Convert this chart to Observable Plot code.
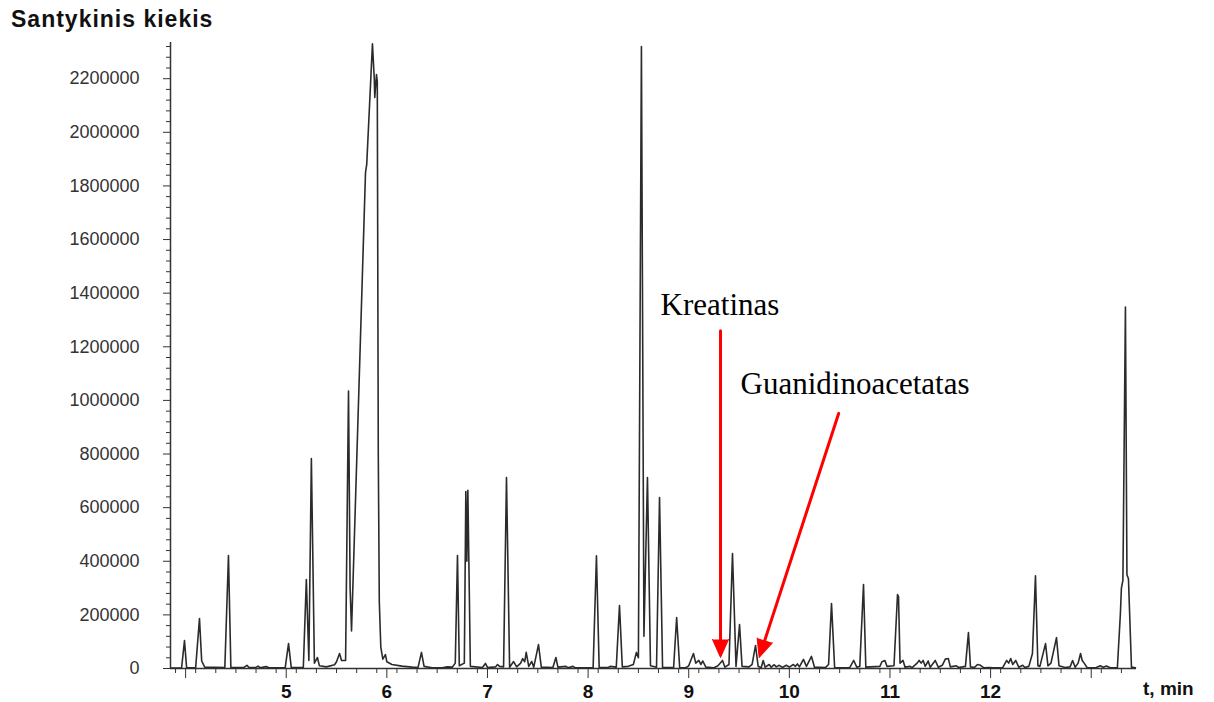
<!DOCTYPE html>
<html>
<head>
<meta charset="utf-8">
<script src="https://cdn.jsdelivr.net/npm/d3@7"></script>
<script src="https://cdn.jsdelivr.net/npm/@observablehq/plot@0.6"></script>
<style>
  html, body { margin: 0; padding: 0; background: #fff; }
  #wrap { position: relative; width: 1214px; height: 702px; font-family: Arial, "Liberation Sans", sans-serif; }
  #title { position: absolute; left: 11px; top: 8px; font-size: 23px; line-height: 23px; letter-spacing: 1px; font-weight: bold; color: #111; white-space: nowrap; }
  #xlab { position: absolute; left: 1143px; top: 679px; font-size: 19px; line-height: 19px; font-weight: bold; color: #111; white-space: nowrap; }
  #chart { position: absolute; left: 0; top: 0; }
</style>
</head>
<body>
<div id="wrap">
  <div id="chart"></div>
  <div id="title">Santykinis kiekis</div>
  <div id="xlab">t, min</div>
</div>
<script>
// Chromatogram trace: retention time (min) and relative amount
const times = [
  3.86, 3.96, 3.989, 4.01, 4.10, 4.138, 4.16, 4.19, 4.39, 4.426, 4.45,
  4.58, 4.61, 4.63, 4.70, 4.72, 4.74, 4.80, 4.83, 4.99, 5.023, 5.05,
  5.17, 5.20, 5.225, 5.25, 5.28, 5.31, 5.33, 5.40, 5.48, 5.50, 5.53, 5.55,
  5.59, 5.619, 5.635, 5.649, 5.788, 5.80, 5.857, 5.875, 5.88, 5.897, 5.905,
  5.915, 5.925, 5.94, 5.96, 5.986, 6.00, 6.05, 6.15, 6.25, 6.31, 6.344, 6.37,
  6.45, 6.55, 6.60, 6.65, 6.68, 6.702, 6.72, 6.77, 6.785, 6.795, 6.805, 6.83,
  6.95, 6.98, 7.00, 7.08, 7.10, 7.12, 7.16, 7.189, 7.22, 7.26, 7.29, 7.33,
  7.35, 7.37, 7.385, 7.41, 7.44, 7.46, 7.507, 7.535, 7.65, 7.68, 7.70, 7.78,
  7.80, 7.85, 7.87, 8.05, 8.083, 8.11, 8.20, 8.22, 8.28, 8.312, 8.34, 8.40,
  8.45, 8.48, 8.50, 8.53, 8.555, 8.59, 8.62, 8.68, 8.71, 8.74, 8.85, 8.88,
  8.91, 8.97, 9.00, 9.047, 9.07, 9.10, 9.12, 9.14, 9.17, 9.25, 9.29, 9.336,
  9.36, 9.40, 9.435, 9.47, 9.505, 9.53, 9.60, 9.63, 9.664, 9.69, 9.72, 9.74,
  9.76, 9.80, 9.82, 9.85, 9.87, 9.90, 9.93, 9.97, 10.00, 10.04, 10.06, 10.08,
  10.10, 10.14, 10.17, 10.22, 10.25, 10.36, 10.39, 10.419, 10.45, 10.60,
  10.64, 10.67, 10.70, 10.737, 10.76, 10.90, 10.92, 10.95, 10.97, 11.04,
  11.075, 11.085, 11.10, 11.13, 11.15, 11.20, 11.22, 11.27, 11.29, 11.31,
  11.33, 11.35, 11.38, 11.40, 11.45, 11.48, 11.52, 11.55, 11.58, 11.60, 11.66,
  11.68, 11.72, 11.75, 11.78, 11.80, 11.84, 11.87, 11.90, 11.93, 11.99, 12.02,
  12.12, 12.16, 12.18, 12.20, 12.22, 12.25, 12.28, 12.32, 12.34, 12.38, 12.416,
  12.446, 12.47, 12.49, 12.546, 12.57, 12.60, 12.655, 12.68, 12.74, 12.79,
  12.815, 12.84, 12.87, 12.894, 12.91, 12.93, 12.96, 13.05, 13.09, 13.12, 13.15,
  13.19, 13.26, 13.29, 13.30, 13.315, 13.34, 13.355, 13.37, 13.40, 13.44
];
const amounts = [
  2000, 2000, 104000, 3000, 3000, 186000, 28000, 5000, 4000, 421000, 4000,
  4000, 12000, 4000, 4000, 9000, 3000, 7000, 3000, 3000, 93000, 4000,
  4000, 332000, 30000, 783000, 20000, 41000, 10000, 6000, 14000, 25000, 56000, 30000,
  30000, 1035000, 300000, 140000, 1850000, 1880000, 2330000, 2200000, 2130000, 2215000, 2190000,
  800000, 250000, 80000, 35000, 52000, 25000, 15000, 9000, 5000, 4000, 60000, 8000,
  3000, 3000, 6000, 5000, 20000, 421000, 10000, 20000, 660000, 400000, 665000, 8000,
  4000, 19000, 4000, 6000, 15000, 8000, 6000, 712000, 5000, 26000, 6000, 20000,
  37000, 25000, 60000, 8000, 26000, 5000, 89000, 5000, 4000, 41000, 5000, 8000,
  3000, 8000, 3000, 3000, 420000, 4000, 4000, 8000, 5000, 235000, 6000, 8000,
  15000, 60000, 40000, 2320000, 120000, 712000, 10000, 5000, 638000, 4000, 4000, 190000,
  4000, 3000, 10000, 56000, 20000, 30000, 15000, 28000, 5000, 3000, 10000, 30000,
  5000, 15000, 429000, 8000, 164000, 8000, 6000, 15000, 86000, 8000, 3000, 30000,
  5000, 15000, 5000, 14000, 6000, 12000, 4000, 12000, 5000, 15000, 8000, 17000,
  6000, 34000, 8000, 45000, 5000, 4000, 15000, 242000, 4000, 3000,
  30000, 5000, 8000, 313000, 5000, 8000, 25000, 30000, 8000, 10000,
  276000, 268000, 20000, 30000, 5000, 8000, 3000, 20000, 30000, 20000,
  30000, 8000, 28000, 5000, 30000, 5000, 12000, 35000, 37000, 6000, 10000,
  4000, 6000, 8000, 134000, 6000, 4000, 15000, 12000, 3000, 4000, 3000,
  3000, 30000, 20000, 37000, 15000, 30000, 5000, 12000, 4000, 8000, 56000,
  346000, 10000, 8000, 93000, 10000, 20000, 115000, 10000, 4000, 6000,
  30000, 5000, 20000, 56000, 30000, 20000, 3000, 4000, 10000, 5000, 9000,
  3000, 4000, 205000, 300000, 330000, 1348000, 350000, 335000, 5000, 3000
];

// Axis ticks and labels
const xMajorTicks = [4, 5, 6, 7, 8, 9, 10, 11, 12, 13];
const xLabelled = [5, 6, 7, 8, 9, 10, 11, 12];
const yMajorTicks = [0, 200000, 400000, 600000, 800000, 1000000, 1200000, 1400000, 1600000, 1800000, 2000000, 2200000];

// Annotations
const annotationLabels = ["Kreatinas", "Guanidinoacetatas"];
const annotationTextT = [8.72, 9.515];
const annotationTextV = [1354000, 1061000];
const arrowFromT = [9.316, 10.49];
const arrowFromV = [1260000, 951000];
const arrowToT = [9.316, 9.70];
const arrowToV = [41000, 41000];
const arrowAngle = [180, 198];

const trace = times.map((t, i) => ({t, v: amounts[i]}));
const notes = annotationLabels.map((label, i) => ({
  label, tx: annotationTextT[i], tv: annotationTextV[i],
  x1: arrowFromT[i], y1: arrowFromV[i], x2: arrowToT[i], y2: arrowToV[i], rot: arrowAngle[i]
}));

const xMinor = d3.range(3.9, 13.45, 0.2).filter(d => Math.abs(d - Math.round(d)) > 0.05);
const yMinor = d3.range(0, 2340001, 40000).filter(d => d % 200000 !== 0);

const xDomain = [3.85, 13.45];
const yDomain = [0, 2335000];
const axisColor = "#333";
const fontFam = "Arial, 'Liberation Sans', sans-serif";

const chart = Plot.plot({
  width: 1214,
  height: 702,
  marginLeft: 170,
  marginRight: 78,
  marginTop: 42,
  marginBottom: 34,
  x: {domain: xDomain, label: null},
  y: {domain: yDomain, label: null},
  style: {fontFamily: fontFam, background: "transparent", overflow: "visible"},
  marks: [
    Plot.axisY({ticks: yMinor, tickSize: 4, tickFormat: () => "", stroke: axisColor, label: null}),
    Plot.axisY({ticks: yMajorTicks, tickSize: 7, tickPadding: 24, tickFormat: d3.format("d"),
      fontSize: 18, fill: "#333", stroke: axisColor, label: null, ariaLabel: "y-major"}),
    Plot.axisX({ticks: xMinor, tickSize: 5, tickFormat: () => "", stroke: axisColor, label: null}),
    Plot.axisX({ticks: xMajorTicks, tickSize: 10, tickPadding: 6,
      tickFormat: d => xLabelled.includes(d) ? String(d) : "",
      fontSize: 19, fontWeight: "bold", fill: "#111", stroke: axisColor, label: null}),
    Plot.ruleX([xDomain[0]], {stroke: axisColor, strokeWidth: 1.5}),
    Plot.ruleY([0], {stroke: axisColor, strokeWidth: 1.5}),
    Plot.line(trace, {x: "t", y: "v", stroke: "#2b2b2b", strokeWidth: 1.6}),
    Plot.arrow(notes, {x1: "x1", y1: "y1", x2: "x2", y2: "y2", stroke: "#f00", strokeWidth: 3,
      headLength: 0, insetEnd: 10}),
    Plot.vector(notes, {
      x: "x2", y: "y2", rotate: "rot", length: 18, r: 8, shape: "spike", anchor: "end",
      fill: "#f00", stroke: "#f00", strokeWidth: 1, fillOpacity: 1
    }),
    Plot.text(notes, {x: "tx", y: "tv", text: "label", textAnchor: "start", lineAnchor: "middle",
      fontFamily: "'Times New Roman', 'Liberation Serif', serif", fontSize: 31, fill: "#000"})
  ]
});
// widen the y tick labels slightly, as in the reference
d3.select(chart).selectAll("text")
  .filter(function() { return /^\d{4,}$|^0$/.test(this.textContent) && this.closest("g") && this.getAttribute("x") === null || false; });
d3.select(chart).selectAll("g").each(function() {
  const g = d3.select(this);
  const al = this.getAttribute("aria-label") || "";
  if (al.startsWith("y-axis tick label") || al === "y-major") {
    g.selectAll("text").style("letter-spacing", "1px");
  }
});
document.getElementById("chart").appendChild(chart);
</script>
</body>
</html>
